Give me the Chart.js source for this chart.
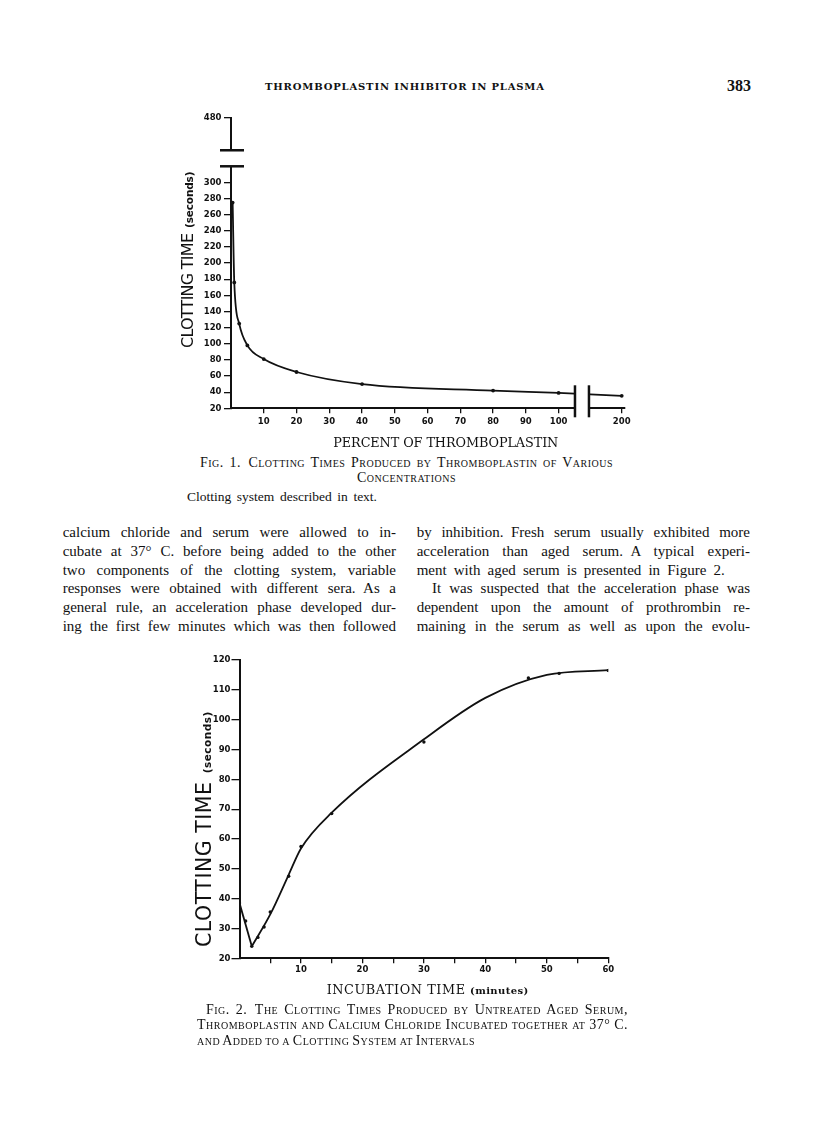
<!DOCTYPE html>
<html>
<head>
<meta charset="utf-8">
<script src="https://cdn.jsdelivr.net/npm/chart.js@4.4.1/dist/chart.umd.min.js"></script>
<style>
html,body{margin:0;padding:0;background:#fff;}
body{width:816px;height:1121px;position:relative;overflow:hidden;color:#111;}
.t{position:absolute;white-space:nowrap;line-height:1;}
.hdr{font-family:'DejaVu Serif',serif;font-weight:bold;font-size:10px;}
.pg{font-family:'Liberation Serif',serif;font-weight:bold;font-size:16px;}
.bd{font-family:'Liberation Serif',serif;font-size:15px;}
.cap{font-family:'Liberation Serif',serif;font-size:14px;font-variant:small-caps;letter-spacing:0.5px;}
.note{font-family:'Liberation Serif',serif;font-size:13.5px;}
canvas{position:absolute;}
</style>
</head>
<body>
<div class="t hdr" data-x="265" data-b="90" data-w="279" data-m="l">THROMBOPLASTIN INHIBITOR IN PLASMA</div>
<div class="t pg" data-x="727" data-b="91">383</div>

<canvas id="fig1" width="500" height="355" style="left:151px;top:100px"></canvas>

<div class="t cap" data-x="200" data-b="467.3" data-w="413">Fig. 1.&#8194;Clotting Times Produced by Thromboplastin of Various</div>
<div class="t cap" data-c="406.5" data-b="482.7">Concentrations</div>
<div class="t note" data-x="187" data-b="501" data-w="190">Clotting system described in text.</div>

<div class="t bd" data-x="62.7" data-b="537.5" data-w="333.3">calcium chloride and serum were allowed to in-</div>
<div class="t bd" data-x="62.7" data-b="556.3" data-w="333.3">cubate at 37° C. before being added to the other</div>
<div class="t bd" data-x="62.7" data-b="575.2" data-w="333.3">two components of the clotting system, variable</div>
<div class="t bd" data-x="62.7" data-b="594" data-w="333.3">responses were obtained with different sera.&#8194;As a</div>
<div class="t bd" data-x="62.7" data-b="612.9" data-w="333.3">general rule, an acceleration phase developed dur-</div>
<div class="t bd" data-x="62.7" data-b="631.7" data-w="333.3">ing the first few minutes which was then followed</div>

<div class="t bd" data-x="416.7" data-b="537.5" data-w="333.3">by inhibition.&#8194;Fresh serum usually exhibited more</div>
<div class="t bd" data-x="416.7" data-b="556.3" data-w="333.3">acceleration than aged serum.&#8194;A typical experi-</div>
<div class="t bd" data-x="416.7" data-b="575.2" data-w="308">ment with aged serum is presented in Figure 2.</div>
<div class="t bd" data-x="432" data-b="594" data-w="318">It was suspected that the acceleration phase was</div>
<div class="t bd" data-x="416.7" data-b="612.9" data-w="333.3">dependent upon the amount of prothrombin re-</div>
<div class="t bd" data-x="416.7" data-b="631.7" data-w="333.3">maining in the serum as well as upon the evolu-</div>

<canvas id="fig2" width="500" height="365" style="left:150px;top:640px"></canvas>

<div class="t cap" data-x="206" data-b="1014.3" data-w="422">Fig. 2.&#8194;The Clotting Times Produced by Untreated Aged Serum,</div>
<div class="t cap" data-x="197" data-b="1030" data-w="431">Thromboplastin and Calcium Chloride Incubated together at 37° C.</div>
<div class="t cap" data-x="197" data-b="1045.5" data-w="278">and Added to a Clotting System at Intervals</div>

<script>
// ---------------- DATA ----------------
// Figure 1: clotting time vs percent of thromboplastin
const fig1Percent = [0.5, 1, 2.5, 5, 10, 20, 40, 80, 100, 200];
const fig1Seconds = [275, 176, 125, 98, 81, 65, 50, 42, 39, 35.5];
const fig1XTicks = [10, 20, 30, 40, 50, 60, 70, 80, 90, 100, 200];
const fig1YTicks = [20, 40, 60, 80, 100, 120, 140, 160, 180, 200, 220, 240, 260, 280, 300, 480];
const fig1XBreak = {lo: 105, hi: 190, gap: 4.27};
const fig1YBreak = {lo: 320, hi: 440, gap: 19.86};

// Figure 2: observed clotting times vs incubation time
const fig2Minutes = [0, 1, 2, 3, 4, 5, 8, 10, 15, 30, 47, 52, 60];
const fig2Seconds = [38.5, 32.5, 24, 27, 30.5, 35.5, 47.5, 57.5, 68.5, 92.5, 114, 115.5, 116.5];
// Figure 2: the hand-drawn curve
const fig2CurveMinutes = [0, 2, 5, 8, 10, 15, 30, 40, 50, 60];
const fig2CurveSeconds = [38.5, 24, 34.7, 48, 56.8, 68.8, 93.4, 107.3, 115, 116.6];
const fig2XTicks = [5, 10, 15, 20, 25, 30, 35, 40, 45, 50, 55, 60];
const fig2XLabels = [10, 20, 30, 40, 50, 60];
const fig2YTicks = [20, 30, 40, 50, 60, 70, 80, 90, 100, 110, 120];

// --------------- page text placement ---------------
document.querySelectorAll('.t').forEach(el => {
  const fs = parseFloat(getComputedStyle(el).fontSize);
  el.style.top = (+el.dataset.b - 0.84 * fs) + 'px';
  if (el.dataset.w) {
    const target = +el.dataset.w;
    const w = el.getBoundingClientRect().width;
    const txt = el.textContent;
    if (el.dataset.m === 'l') {
      el.style.letterSpacing = ((target - w) / (txt.length - 1)) + 'px';
    } else {
      const s = (txt.match(/ /g) || []).length;
      if (s) el.style.wordSpacing = ((target - w) / s) + 'px';
    }
  }
  if (el.dataset.c) {
    const w2 = el.getBoundingClientRect().width;
    el.style.left = (+el.dataset.c - w2 / 2) + 'px';
  } else {
    el.style.left = el.dataset.x + 'px';
  }
});

// --------------- broken linear scale ---------------
class BrokenLinearScale extends Chart.LinearScale {
  comp(v) {
    const b = this._brk || this.options.brk;
    if (!b || v === null || v === undefined || isNaN(v)) return v;
    if (v <= b.lo) return v;
    if (v >= b.hi) return v - (b.hi - b.lo) + b.gap;
    return b.lo + (v - b.lo) / (b.hi - b.lo) * b.gap;
  }
  configure() {
    super.configure();
    const b = this.options.brk;
    this._brk = b ? {lo: b.lo, hi: b.hi, gap: b.gap} : null;
    this._startValue = this.comp(this.min);
    this._endValue = this.comp(this.max);
    this._valueRange = this._endValue - this._startValue;
  }
  getPixelForValue(value) {
    return super.getPixelForValue(this.comp(value));
  }
}
BrokenLinearScale.id = 'brokenLinear';
BrokenLinearScale.defaults = {};
Chart.register(BrokenLinearScale);

const INK = '#111';
const tickFont = {family: 'DejaVu Sans', weight: 'bold', size: 8.5, lineHeight: 1.2};

function drawFit(ctx, text, x, y, font, width, rot) {
  ctx.save();
  ctx.translate(x, y);
  if (rot) ctx.rotate(rot);
  ctx.font = font;
  ctx.textBaseline = 'alphabetic';
  ctx.textAlign = 'left';
  ctx.fillStyle = INK;
  const w = ctx.measureText(text).width;
  const n = text.length;
  if ('letterSpacing' in ctx && n > 1) {
    ctx.letterSpacing = ((width - w) / (n - 1)) + 'px';
    ctx.fillText(text, 0, 0);
  } else {
    ctx.scale(width / w, 1);
    ctx.fillText(text, 0, 0);
  }
  ctx.restore();
}

// --------------- Figure 1 ---------------
const fig1Decor = {
  id: 'fig1Decor',
  afterDraw(chart) {
    const ctx = chart.ctx, a = chart.chartArea;
    const xs = chart.scales.x, ys = chart.scales.y;
    ctx.save();
    // x-axis break
    const xa = xs.getPixelForValue(fig1XBreak.lo), xb = xs.getPixelForValue(fig1XBreak.hi);
    ctx.fillStyle = '#fff';
    ctx.fillRect(xa, a.bottom - 30, xb - xa, 34);
    ctx.strokeStyle = INK; ctx.lineWidth = 2.5;
    [xa, xb].forEach(px => { ctx.beginPath(); ctx.moveTo(px, a.bottom - 23); ctx.lineTo(px, a.bottom + 9); ctx.stroke(); });
    // y-axis break
    const ya = ys.getPixelForValue(fig1YBreak.lo), yb = ys.getPixelForValue(fig1YBreak.hi);
    ctx.fillStyle = '#fff';
    ctx.fillRect(a.left - 12, yb, 26, ya - yb);
    [ya, yb].forEach(py => { ctx.beginPath(); ctx.moveTo(a.left - 11, py); ctx.lineTo(a.left + 13, py); ctx.stroke(); });
    ctx.restore();
    // axis titles
    drawFit(ctx, 'CLOTTING TIME', 42, 248, '16px "DejaVu Sans"', 115, -Math.PI / 2);
    drawFit(ctx, '(seconds)', 42, 128, 'bold 10.5px "DejaVu Sans"', 56.5, -Math.PI / 2);
    drawFit(ctx, 'PERCENT OF THROMBOPLASTIN', 182.3, 346.7, '12.8px "DejaVu Serif"', 225, 0);
  }
};

new Chart(document.getElementById('fig1'), {
  type: 'line',
  data: {
    datasets: [{
      data: fig1Percent.map((p, i) => ({x: p, y: fig1Seconds[i]})),
      borderColor: INK, borderWidth: 1.8,
      cubicInterpolationMode: 'monotone',
      pointRadius: 1.9, pointBackgroundColor: INK, pointBorderWidth: 0,
      fill: false
    }]
  },
  options: {
    responsive: false, animation: false, devicePixelRatio: 1,
    layout: {padding: {left: 0, top: 18, right: 26, bottom: 0}},
    plugins: {legend: {display: false}, tooltip: {enabled: false}},
    scales: {
      x: {
        type: 'brokenLinear', brk: fig1XBreak, min: 0, max: 201, bounds: 'data',
        afterFit: s => { s.height = 46.7; },
        afterBuildTicks: s => { s.ticks = fig1XTicks.map(v => ({value: v})); },
        border: {display: true, color: INK, width: 2},
        grid: {drawOnChartArea: false, drawTicks: true, tickLength: 5, color: INK, lineWidth: 1.3},
        ticks: {autoSkip: false, maxRotation: 0, color: INK, font: tickFont, padding: 3.3,
                callback: v => String(v)}
      },
      y: {
        type: 'brokenLinear', brk: fig1YBreak, min: 20, max: 480, bounds: 'data',
        afterFit: s => { s.width = 80; },
        afterBuildTicks: s => { s.ticks = fig1YTicks.map(v => ({value: v})); },
        border: {display: true, color: INK, width: 2},
        grid: {drawOnChartArea: false, drawTicks: true, tickLength: 7, color: INK, lineWidth: 1.3},
        ticks: {autoSkip: false, color: INK, font: tickFont, padding: 2.5,
                callback: v => String(v)}
      }
    }
  },
  plugins: [fig1Decor]
});

// --------------- Figure 2 ---------------
const fig2Decor = {
  id: 'fig2Decor',
  afterDraw(chart) {
    const ctx = chart.ctx;
    drawFit(ctx, 'CLOTTING TIME', 60.5, 307, '20.5px "DejaVu Sans"', 165, -Math.PI / 2);
    drawFit(ctx, '(seconds)', 60.5, 133.3, 'bold 10.5px "DejaVu Sans"', 61.6, -Math.PI / 2);
    drawFit(ctx, 'INCUBATION TIME', 176.7, 354.3, '12.8px "DejaVu Serif"', 138.3, 0);
    drawFit(ctx, '(minutes)', 320, 354.3, 'bold 10px "DejaVu Serif"', 58.3, 0);
  }
};

const fig2Pts = fig2Minutes.map((m, i) => ({x: m, y: fig2Seconds[i]}));
const fig2Curve = fig2CurveMinutes.map((m, i) => ({x: m, y: fig2CurveSeconds[i]}));
new Chart(document.getElementById('fig2'), {
  type: 'line',
  data: {
    datasets: [
      { // initial fall (straight segment)
        data: fig2Curve.slice(0, 2),
        borderColor: INK, borderWidth: 1.8, tension: 0, pointRadius: 0, fill: false
      },
      { // smooth rise
        data: fig2Curve.slice(1),
        borderColor: INK, borderWidth: 1.8, cubicInterpolationMode: 'monotone', pointRadius: 0, fill: false
      },
      { // observed points
        data: fig2Pts, showLine: false,
        pointRadius: 1.7, pointBackgroundColor: INK, pointBorderWidth: 0
      }
    ]
  },
  options: {
    responsive: false, animation: false, devicePixelRatio: 1,
    layout: {padding: {left: 0, top: 20, right: 41.7, bottom: 0}},
    plugins: {legend: {display: false}, tooltip: {enabled: false}},
    scales: {
      x: {
        type: 'linear', min: 0, max: 60, bounds: 'data',
        afterFit: s => { s.height = 46.7; },
        afterBuildTicks: s => { s.ticks = fig2XTicks.map(v => ({value: v})); },
        border: {display: true, color: INK, width: 2},
        grid: {drawOnChartArea: false, drawTicks: true, tickLength: 5, color: INK, lineWidth: 1.3},
        ticks: {autoSkip: false, maxRotation: 0, color: INK, font: tickFont, padding: 1.5,
                callback: v => fig2XLabels.includes(v) ? String(v) : ''}
      },
      y: {
        type: 'linear', min: 20, max: 120, bounds: 'data',
        afterFit: s => { s.width = 89.5; },
        afterBuildTicks: s => { s.ticks = fig2YTicks.map(v => ({value: v})); },
        border: {display: true, color: INK, width: 2},
        grid: {drawOnChartArea: false, drawTicks: true, tickLength: 8, color: INK, lineWidth: 1.3},
        ticks: {autoSkip: false, color: INK, font: tickFont, padding: 1,
                callback: v => String(v)}
      }
    }
  },
  plugins: [fig2Decor]
});
</script>
</body>
</html>
